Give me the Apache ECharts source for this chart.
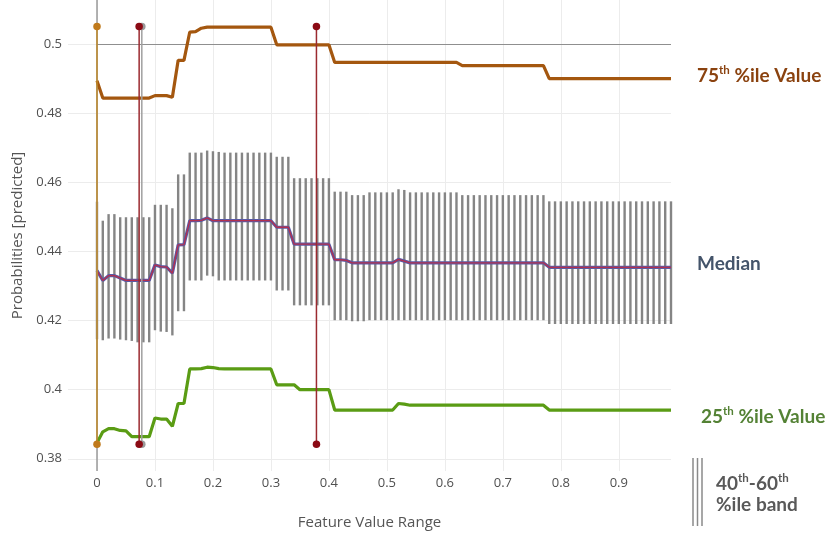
<!DOCTYPE html>
<html><head><meta charset="utf-8">
<script src="https://cdn.jsdelivr.net/npm/echarts@6/dist/echarts.min.js"></script>
<style>html,body{margin:0;padding:0;background:#fff}#c{width:831px;height:535px}</style>
</head><body><div id="c"></div>
<script>
// ---- data ----
const featureX = [0.00,0.01,0.02,0.03,0.04,0.05,0.06,0.07,0.08,0.09,
  0.10,0.11,0.12,0.13,0.14,0.15,0.16,0.17,0.18,0.19,
  0.20,0.21,0.22,0.23,0.24,0.25,0.26,0.27,0.28,0.29,
  0.30,0.31,0.32,0.33,0.34,0.35,0.36,0.37,0.38,0.39,
  0.40,0.41,0.42,0.43,0.44,0.45,0.46,0.47,0.48,0.49,
  0.50,0.51,0.52,0.53,0.54,0.55,0.56,0.57,0.58,0.59,
  0.60,0.61,0.62,0.63,0.64,0.65,0.66,0.67,0.68,0.69,
  0.70,0.71,0.72,0.73,0.74,0.75,0.76,0.77,0.78,0.79,
  0.80,0.81,0.82,0.83,0.84,0.85,0.86,0.87,0.88,0.89,
  0.90,0.91,0.92,0.93,0.94,0.95,0.96,0.97,0.98,0.99];

const p75 = [0.4894,0.4844,0.4844,0.4844,0.4844,0.4844,0.4844,0.4844,0.4844,0.4844,
  0.4851,0.4851,0.4851,0.4846,0.4953,0.4953,0.5035,0.5036,0.5046,0.5049,
  0.5049,0.5049,0.5049,0.5049,0.5049,0.5049,0.5049,0.5049,0.5049,0.5049,
  0.5049,0.4998,0.4998,0.4998,0.4998,0.4998,0.4998,0.4998,0.4998,0.4998,
  0.4998,0.4947,0.4947,0.4947,0.4947,0.4947,0.4947,0.4947,0.4947,0.4947,
  0.4947,0.4947,0.4947,0.4947,0.4947,0.4947,0.4947,0.4947,0.4947,0.4947,
  0.4947,0.4947,0.4947,0.4938,0.4938,0.4938,0.4938,0.4938,0.4938,0.4938,
  0.4938,0.4938,0.4938,0.4938,0.4938,0.4938,0.4938,0.4938,0.4900,0.4900,
  0.4900,0.4900,0.4900,0.4900,0.4900,0.4900,0.4900,0.4900,0.4900,0.4900,
  0.4900,0.4900,0.4900,0.4900,0.4900,0.4900,0.4900,0.4900,0.4900,0.4900];

const median = [0.4345,0.4316,0.4330,0.4330,0.4323,0.4316,0.4316,0.4316,0.4316,0.4316,
  0.4361,0.4356,0.4355,0.4337,0.4419,0.4420,0.4489,0.4489,0.4490,0.4497,
  0.4489,0.4489,0.4489,0.4489,0.4489,0.4489,0.4489,0.4489,0.4489,0.4489,
  0.4489,0.4470,0.4470,0.4470,0.4421,0.4421,0.4421,0.4421,0.4421,0.4421,
  0.4421,0.4376,0.4376,0.4374,0.4367,0.4367,0.4367,0.4367,0.4367,0.4367,
  0.4367,0.4367,0.4377,0.4372,0.4367,0.4367,0.4367,0.4367,0.4367,0.4367,
  0.4367,0.4367,0.4367,0.4367,0.4367,0.4367,0.4367,0.4367,0.4367,0.4367,
  0.4367,0.4367,0.4367,0.4367,0.4367,0.4367,0.4367,0.4367,0.4354,0.4354,
  0.4354,0.4354,0.4354,0.4354,0.4354,0.4354,0.4354,0.4354,0.4354,0.4354,
  0.4354,0.4354,0.4354,0.4354,0.4354,0.4354,0.4354,0.4354,0.4354,0.4354];

const bandHigh = [0.4544,0.4489,0.4508,0.4508,0.4499,0.4499,0.4499,0.4499,0.4499,0.4499,
  0.4535,0.4535,0.4535,0.4525,0.4623,0.4623,0.4686,0.4686,0.4686,0.4692,
  0.4690,0.4688,0.4686,0.4686,0.4686,0.4686,0.4686,0.4686,0.4686,0.4686,
  0.4686,0.4674,0.4674,0.4674,0.4612,0.4612,0.4612,0.4612,0.4612,0.4612,
  0.4612,0.4573,0.4573,0.4573,0.4563,0.4563,0.4563,0.4571,0.4571,0.4571,
  0.4571,0.4571,0.4580,0.4578,0.4571,0.4571,0.4571,0.4571,0.4571,0.4571,
  0.4571,0.4571,0.4571,0.4563,0.4563,0.4563,0.4563,0.4563,0.4563,0.4563,
  0.4563,0.4563,0.4563,0.4563,0.4563,0.4563,0.4563,0.4563,0.4545,0.4545,
  0.4545,0.4545,0.4545,0.4545,0.4545,0.4545,0.4545,0.4545,0.4545,0.4545,
  0.4545,0.4545,0.4545,0.4545,0.4545,0.4545,0.4545,0.4545,0.4545,0.4545];

const bandLow = [0.4146,0.4143,0.4148,0.4148,0.4145,0.4143,0.4141,0.4137,0.4137,0.4137,
  0.4172,0.4168,0.4167,0.4157,0.4227,0.4227,0.4316,0.4316,0.4316,0.4330,
  0.4328,0.4316,0.4316,0.4316,0.4316,0.4316,0.4316,0.4316,0.4316,0.4316,
  0.4316,0.4287,0.4287,0.4287,0.4244,0.4244,0.4244,0.4244,0.4244,0.4244,
  0.4244,0.4201,0.4201,0.4201,0.4198,0.4198,0.4198,0.4201,0.4201,0.4201,
  0.4201,0.4201,0.4201,0.4201,0.4201,0.4201,0.4201,0.4201,0.4201,0.4201,
  0.4201,0.4201,0.4201,0.4201,0.4201,0.4201,0.4201,0.4201,0.4201,0.4201,
  0.4201,0.4201,0.4201,0.4201,0.4201,0.4201,0.4201,0.4201,0.4190,0.4190,
  0.4190,0.4190,0.4190,0.4190,0.4190,0.4190,0.4190,0.4190,0.4190,0.4190,
  0.4190,0.4190,0.4190,0.4190,0.4190,0.4190,0.4190,0.4190,0.4190,0.4190];

const p25 = [0.3846,0.3878,0.3887,0.3887,0.3882,0.3881,0.3864,0.3864,0.3864,0.3864,
  0.3918,0.3915,0.3915,0.3894,0.3960,0.3960,0.4060,0.4060,0.4061,0.4065,
  0.4064,0.4061,0.4060,0.4060,0.4060,0.4060,0.4060,0.4060,0.4060,0.4060,
  0.4060,0.4014,0.4014,0.4014,0.4014,0.4000,0.4000,0.4000,0.4000,0.4000,
  0.4000,0.3941,0.3941,0.3941,0.3941,0.3941,0.3941,0.3941,0.3941,0.3941,
  0.3941,0.3941,0.3960,0.3958,0.3955,0.3955,0.3955,0.3955,0.3955,0.3955,
  0.3955,0.3955,0.3955,0.3955,0.3955,0.3955,0.3955,0.3955,0.3955,0.3955,
  0.3955,0.3955,0.3955,0.3955,0.3955,0.3955,0.3955,0.3955,0.3941,0.3941,
  0.3941,0.3941,0.3941,0.3941,0.3941,0.3941,0.3941,0.3941,0.3941,0.3941,
  0.3941,0.3941,0.3941,0.3941,0.3941,0.3941,0.3941,0.3941,0.3941,0.3941];

const markerX = [0, 0.0727, 0.0773, 0.3785];
const markerRange = [0.3842, 0.5051];
const refValue = 0.5;
const xAxisRange = [-0.05, 0.99];
const yAxisRange = [0.37646, 0.51277];
const xTitle = 'Feature Value Range';
const yTitle = 'Probabilities [predicted]';

// ---- styles ----
const markerColors = ['#c07a1c', '#8b0a14', '#9a9a9a', '#8b0a14'];
const markerLineColors = ['#c08a2a', '#9b2a30', '#a0a0a0', '#9b2a30'];
const c75 = '#a4570f', c25 = '#5a9c14';
const t75 = '#8a420f', tMed = '#44546A', t25 = '#548235', tBand = '#595959';

const zip = (a) => featureX.map((x, i) => [x, a[i]]);

const series = [];
series.push({
  type: 'custom', z: 1,
  data: featureX.map((x, i) => [x, bandLow[i], bandHigh[i]]),
  encode: { x: 0, y: [1, 2] },
  renderItem: (params, api) => {
    const a = api.coord([api.value(0), api.value(1)]);
    const b = api.coord([api.value(0), api.value(2)]);
    return { type: 'line', shape: { x1: a[0], y1: a[1], x2: b[0], y2: b[1] },
      style: { stroke: '#858585', lineWidth: 2.4 } };
  }
});
// zero line + reference line
series.push({
  type: 'line', data: [], z: 2,
  markLine: {
    silent: true, symbol: 'none', label: { show: false },
    data: [
      [{ coord: [0, yAxisRange[0]], lineStyle: { color: '#9a9a9a', width: 1.5, type: 'solid' } }, { coord: [0, yAxisRange[1]] }],
      [{ coord: [featureX[0], refValue], lineStyle: { color: '#8f8f8f', width: 1.2, type: 'solid' } }, { coord: [featureX[featureX.length - 1], refValue] }]
    ]
  }
});
series.push({ type: 'line', z: 3, data: zip(median), showSymbol: false, lineStyle: { color: '#5a5aa5', width: 3.2 } });
series.push({ type: 'line', z: 4, data: zip(median), showSymbol: false, lineStyle: { color: '#b3304e', width: 1.3 } });
series.push({ type: 'line', z: 5, data: zip(p75), showSymbol: false, lineStyle: { color: c75, width: 3.2 } });
series.push({ type: 'line', z: 5, data: zip(p25), showSymbol: false, lineStyle: { color: c25, width: 3.2 } });
[2, 0, 1, 3].forEach((k) => {
  series.push({
    type: 'line', z: 6,
    data: [[markerX[k], markerRange[0]], [markerX[k], markerRange[1]]],
    symbol: 'circle', symbolSize: 7.5, showSymbol: true,
    itemStyle: { color: markerColors[k] },
    lineStyle: { color: markerLineColors[k], width: 1.5 }
  });
});

const labelFont = 'Lato, "Open Sans", sans-serif';
function legendText(left, top, text, color) {
  return {
    left, top, padding: 0, text,
    textStyle: {
      rich: {
        a: { fontSize: 19, fontWeight: 'bold', color, fontFamily: labelFont, lineHeight: 23 },
        s: { fontSize: 11.5, fontWeight: 'bold', color, fontFamily: labelFont, lineHeight: 23, verticalAlign: 'top' }
      }
    }
  };
}

const option = {
  animation: false,
  backgroundColor: '#ffffff',
  grid: { left: 68, right: 160, top: 0, bottom: 62, containLabel: false },
  title: [
    legendText(697, 64, '{a|75}{s|th}{a| %ile Value}', t75),
    legendText(697, 252, '{a|Median}', tMed),
    legendText(701, 405, '{a|25}{s|th}{a| %ile Value}', t25),
    legendText(716, 472, '{a|40}{s|th}{a|-60}{s|th}', tBand),
    legendText(716, 493, '{a|%ile band}', tBand)
  ],
  graphic: [
    { type: 'line', shape: { x1: 693, y1: 458, x2: 693, y2: 526 }, style: { stroke: '#8a8a8a', lineWidth: 1.5 } },
    { type: 'line', shape: { x1: 697.5, y1: 458, x2: 697.5, y2: 526 }, style: { stroke: '#8a8a8a', lineWidth: 1.5 } },
    { type: 'line', shape: { x1: 702, y1: 458, x2: 702, y2: 526 }, style: { stroke: '#8a8a8a', lineWidth: 1.5 } }
  ],
  xAxis: {
    type: 'value', min: xAxisRange[0], max: xAxisRange[1], splitNumber: 10,
    name: xTitle, nameLocation: 'middle', nameGap: 44,
    nameTextStyle: { fontFamily: '"Open Sans", sans-serif', fontSize: 15, color: '#555' },
    axisLine: { show: false }, axisTick: { show: false },
    axisLabel: { showMinLabel: false, showMaxLabel: false, margin: 6,
      fontFamily: '"Open Sans", sans-serif', fontSize: 13, color: '#505050' },
    splitLine: { show: true, showMinLine: false, showMaxLine: false, lineStyle: { color: '#ececec', width: 1 } }
  },
  yAxis: {
    type: 'value', min: yAxisRange[0], max: yAxisRange[1], splitNumber: 7,
    name: yTitle, nameLocation: 'middle', nameGap: 40,
    nameTextStyle: { fontFamily: '"Open Sans", sans-serif', fontSize: 15, color: '#555' },
    axisLine: { show: false }, axisTick: { show: false },
    axisLabel: { showMinLabel: false, showMaxLabel: false, margin: 6,
      fontFamily: '"Open Sans", sans-serif', fontSize: 13, color: '#505050' },
    splitLine: { show: true, showMinLine: false, showMaxLine: false, lineStyle: { color: '#ececec', width: 1 } }
  },
  series
};
const chart = echarts.init(document.getElementById('c'), null, { renderer: 'canvas' });
chart.setOption(option);
</script>
</body></html>
